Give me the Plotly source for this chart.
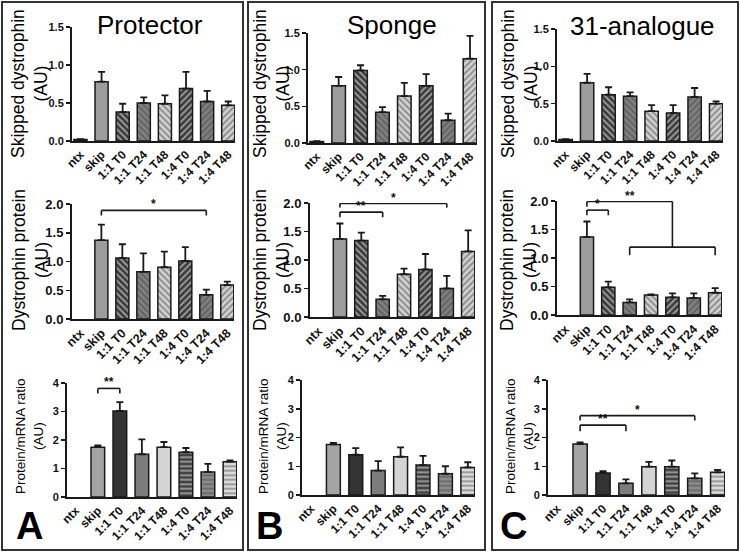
import plotly.graph_objects as go

W, H = 740, 553

categories = ["ntx", "skip", "1:1 T0", "1:1 T24", "1:1 T48", "1:4 T0", "1:4 T24", "1:4 T48"]

panel_titles = ["Protector", "Sponge", "31-analogue"]
panel_letters = ["A", "B", "C"]
row_titles = ["Skipped dystrophin<br>(AU)", "Dystrophin protein<br>(AU)", "Protein/mRNA ratio<br>(AU)"]

# Panel A - Protector
protector_skipped = [0.02, 0.78, 0.38, 0.50, 0.49, 0.69, 0.52, 0.47]
protector_skipped_err = [0.005, 0.13, 0.11, 0.075, 0.11, 0.22, 0.14, 0.05]
protector_protein = [None, 1.37, 1.06, 0.82, 0.90, 1.01, 0.42, 0.59]
protector_protein_err = [0, 0.27, 0.24, 0.32, 0.27, 0.24, 0.09, 0.06]
protector_ratio = [None, 1.75, 3.02, 1.50, 1.75, 1.57, 0.88, 1.24]
protector_ratio_err = [0, 0.06, 0.31, 0.52, 0.18, 0.15, 0.28, 0.04]

# Panel B - Sponge
sponge_skipped = [0.02, 0.78, 0.99, 0.42, 0.64, 0.78, 0.31, 1.15]
sponge_skipped_err = [0.005, 0.12, 0.07, 0.07, 0.18, 0.16, 0.09, 0.31]
sponge_protein = [None, 1.37, 1.34, 0.31, 0.75, 0.835, 0.50, 1.15]
sponge_protein_err = [0, 0.27, 0.14, 0.06, 0.10, 0.27, 0.22, 0.37]
sponge_ratio = [None, 1.76, 1.40, 0.85, 1.33, 1.04, 0.74, 0.96]
sponge_ratio_err = [0, 0.05, 0.23, 0.33, 0.33, 0.32, 0.26, 0.18]

# Panel C - 31-analogue
analogue_skipped = [0.02, 0.78, 0.62, 0.60, 0.40, 0.375, 0.59, 0.50]
analogue_skipped_err = [0.005, 0.12, 0.10, 0.05, 0.08, 0.105, 0.12, 0.03]
analogue_protein = [None, 1.37, 0.485, 0.22, 0.35, 0.31, 0.30, 0.39]
analogue_protein_err = [0, 0.27, 0.10, 0.055, 0.01, 0.07, 0.08, 0.08]
analogue_ratio = [None, 1.77, 0.765, 0.405, 0.985, 0.985, 0.58, 0.79]
analogue_ratio_err = [0, 0.06, 0.065, 0.14, 0.165, 0.215, 0.17, 0.08]

# significance brackets: (from index, to index, bracket y, tip y, label)
brackets = {
    (0, 1): [(1, 6, 1.89, 1.80, "*")],
    (0, 2): [(1, 2, 3.81, 3.63, "**")],
    (1, 1): [(1, 3, 1.84, 1.75, "**"), (1, 6, 1.99, 1.92, "*")],
    (2, 1): [(1, 2, 1.84, 1.75, "*")],
    (2, 2): [(1, 3, 2.43, 2.22, "**"), (1, 6, 2.76, 2.59, "*")],
}
# grouped bracket in panel C, protein row: skip vs 1:1 T24 .. 1:4 T48
group_bracket = dict(start=1, mid=5, g0=3, g1=7, y_top=1.99, y_group=1.19, y_tip=1.05, label="**")

values = [
    [(protector_skipped, protector_skipped_err), (protector_protein, protector_protein_err), (protector_ratio, protector_ratio_err)],
    [(sponge_skipped, sponge_skipped_err), (sponge_protein, sponge_protein_err), (sponge_ratio, sponge_ratio_err)],
    [(analogue_skipped, analogue_skipped_err), (analogue_protein, analogue_protein_err), (analogue_ratio, analogue_ratio_err)],
]

# pixel layout of each plot area: (left, right, top, bottom)
boxes = [
    [(72, 235, 27, 141), (72, 234, 204, 319), (67, 237, 383, 497)],
    [(308, 477, 33, 143), (310, 475, 203, 317), (302, 475, 380, 495)],
    [(557, 723, 29, 141), (557, 722, 201, 315), (548, 725, 380, 495)],
]
yranges = [[0, 1.5], [0, 2.0], [0, 4]]
ytickvals = [[0, 0.5, 1.0, 1.5], [0, 0.5, 1.0, 1.5, 2.0], [0, 1, 2, 3, 4]]
yticktext = [["0.0", "0.5", "1.0", "1.5"], ["0.0", "0.5", "1.0", "1.5", "2.0"], ["0", "1", "2", "3", "4"]]
ytickfont = [11, 13, 11]
xtickfont = [12, 12.5, 12]
ytitle_size = [17.5, 17.5, 13.5]
ytitle_x = [[29, 30, 29], [271, 271, 272], [519, 518, 519]]
ytitle_y = [84, 260, 436]
panel_rects = [(2, 243, 2, 550), (248, 485, 2, 550), (492, 738, 2, 550)]
title_pos = [(150, 25), (392, 25), (642, 26)]
letter_pos = [(29, 526), (269, 526), (513, 526)]

# styles
hatch_colors = ["#1c1c1c", "#9c9c9c", "#3a3a3a", "#808080", "#d2d2d2", "#3a3a3a", "#808080", "#d2d2d2"]
hatch_fg = ["#1c1c1c", "#9c9c9c", "#a0a0a0", "#c4c4c4", "#f4f4f4", "#a0a0a0", "#c4c4c4", "#f4f4f4"]
hatch_shapes = ["", "", "\\", "\\", "\\", "/", "/", "/"]
ratio_colors = ["#1c1c1c", "#a4a4a4", "#333333", "#7c7c7c", "#d4d4d4", "#404040", "#8c8c8c", "#dcdcdc"]
ratio_fg = ["#1c1c1c", "#a4a4a4", "#333333", "#7c7c7c", "#d4d4d4", "#b0b0b0", "#d0d0d0", "#f6f6f6"]
ratio_shapes = ["", "", "", "", "", "-", "-", "-"]

FONT = "Liberation Sans, Arial, sans-serif"
INK = "#1a1a1a"

fig = go.Figure()
layout = {}
shapes = []
annotations = []

n = 0
for p in range(3):
    for r in range(3):
        n += 1
        xid = "x" if n == 1 else f"x{n}"
        yid = "y" if n == 1 else f"y{n}"
        xkey = "xaxis" if n == 1 else f"xaxis{n}"
        ykey = "yaxis" if n == 1 else f"yaxis{n}"
        vals, errs = values[p][r]
        if r < 2:
            cols, fgs, shp = hatch_colors, hatch_fg, hatch_shapes
        else:
            cols, fgs, shp = ratio_colors, ratio_fg, ratio_shapes
        fig.add_trace(go.Bar(
            x=categories, y=vals, width=0.62,
            marker=dict(color=cols, line=dict(color=INK, width=1.5),
                        pattern=dict(shape=shp, fgcolor=fgs, size=4.5, solidity=0.4, fillmode="overlay")),
            error_y=dict(type="data", array=errs, arrayminus=[0] * len(errs), symmetric=False,
                         color=INK, thickness=1.8, width=3.5),
            xaxis=xid, yaxis=yid, showlegend=False, hoverinfo="skip",
        ))
        l, rr, t, b = boxes[p][r]
        layout[xkey] = dict(
            domain=[l / W, rr / W], anchor=yid, type="category", range=[-0.4, 7.32],
            showline=True, linecolor=INK, linewidth=2, ticks="", tickangle=-45, automargin=False,
            tickfont=dict(family=FONT, size=xtickfont[r], color="#111", weight="bold"),
            showgrid=False, zeroline=False, fixedrange=True,
        )
        layout[ykey] = dict(
            domain=[1 - b / H, 1 - t / H], anchor=xid, range=yranges[r], automargin=False,
            tickvals=ytickvals[r], ticktext=yticktext[r],
            showline=True, linecolor=INK, linewidth=2, ticks="outside", ticklen=4, tickwidth=1.5,
            tickcolor=INK, tickfont=dict(family=FONT, size=ytickfont[r], color="#111", weight="bold"),
            showgrid=False, zeroline=False, fixedrange=True,
        )
        # axis title
        annotations.append(dict(
            text=row_titles[r], x=ytitle_x[p][r] / W, y=1 - ytitle_y[r] / H, xref="paper", yref="paper",
            textangle=-90, showarrow=False, xanchor="center", yanchor="middle",
            font=dict(family=FONT, size=ytitle_size[r], color="#000"),
        ))
        # brackets
        def seg(x0, y0, x1, y1):
            shapes.append(dict(type="line", xref=xid, yref=yid, x0=x0, y0=y0, x1=x1, y1=y1,
                               line=dict(color=INK, width=1.6)))
        for (i0, i1, yb, yt, lab) in brackets.get((p, r), []):
            seg(i0, yb, i1, yb)
            seg(i0, yb, i0, yt)
            seg(i1, yb, i1, yt)
            annotations.append(dict(text=lab, x=(i0 + i1) / 2, y=yb, xref=xid, yref=yid, showarrow=False,
                                    xanchor="center", yanchor="bottom", yshift=-3,
                                    font=dict(family=FONT, size=12, color="#111", weight="bold")))
        if (p, r) == (2, 1):
            g = group_bracket
            seg(g["start"], g["y_top"], g["mid"], g["y_top"])
            seg(g["start"], g["y_top"], g["start"], 1.90)
            seg(g["mid"], g["y_top"], g["mid"], g["y_group"])
            seg(g["g0"], g["y_group"], g["g1"], g["y_group"])
            seg(g["g0"], g["y_group"], g["g0"], g["y_tip"])
            seg(g["g1"], g["y_group"], g["g1"], g["y_tip"])
            annotations.append(dict(text=g["label"], x=(g["start"] + g["mid"]) / 2, y=g["y_top"], xref=xid, yref=yid,
                                    showarrow=False, xanchor="center", yanchor="bottom", yshift=-3,
                                    font=dict(family=FONT, size=12, color="#111", weight="bold")))

for p in range(3):
    l, rr, t, b = panel_rects[p]
    shapes.append(dict(type="rect", xref="paper", yref="paper", x0=l / W, x1=rr / W, y0=1 - b / H, y1=1 - t / H,
                       line=dict(color="#333", width=2)))
    annotations.append(dict(text=panel_titles[p], x=title_pos[p][0] / W, y=1 - title_pos[p][1] / H,
                            xref="paper", yref="paper", showarrow=False, xanchor="center", yanchor="middle",
                            font=dict(family=FONT, size=26, color="#000")))
    annotations.append(dict(text=panel_letters[p], x=letter_pos[p][0] / W, y=1 - letter_pos[p][1] / H,
                            xref="paper", yref="paper", showarrow=False, xanchor="center", yanchor="middle",
                            font=dict(family=FONT, size=38, color="#000", weight="bold")))

fig.update_layout(
    width=W, height=H, margin=dict(l=0, r=0, t=0, b=0, autoexpand=False),
    paper_bgcolor="white", plot_bgcolor="rgba(0,0,0,0)",
    shapes=shapes, annotations=annotations, bargap=0.3, hovermode=False,
    **layout,
)

fig.write_html("out.html", config={"displayModeBar": False, "staticPlot": True},
               post_script="document.body.style.margin='0';document.body.style.overflow='hidden';")
